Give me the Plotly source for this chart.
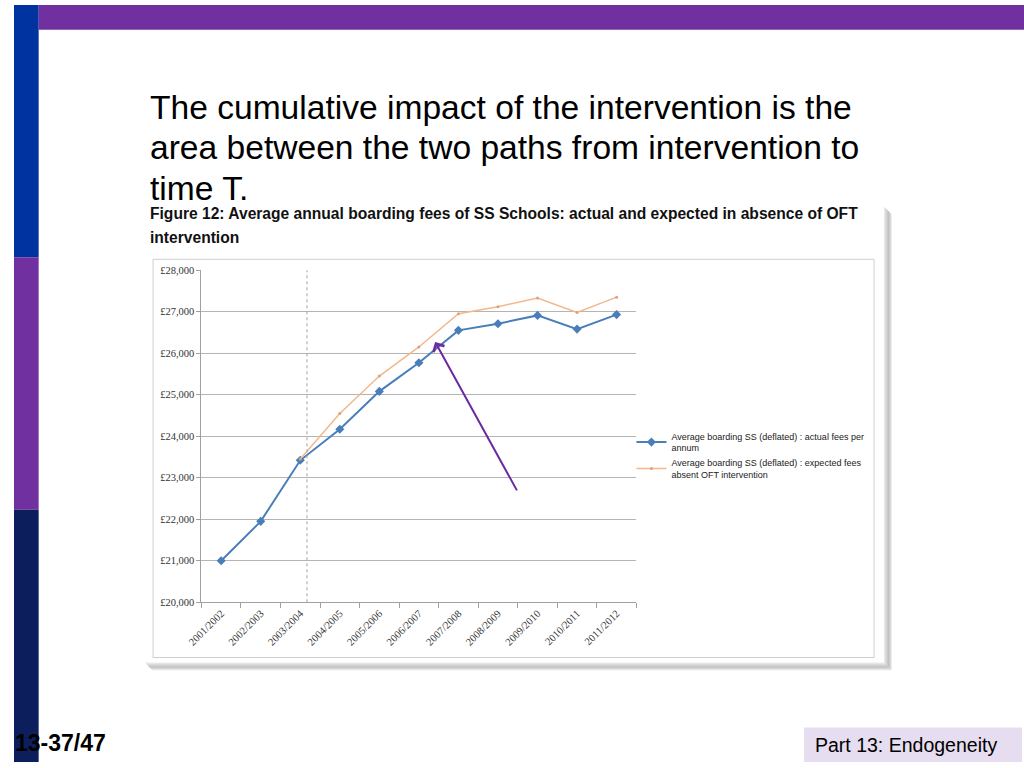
import plotly.graph_objects as go

# ---------------- data ----------------
years = ["2001/2002", "2002/2003", "2003/2004", "2004/2005", "2005/2006", "2006/2007",
         "2007/2008", "2008/2009", "2009/2010", "2010/2011", "2011/2012"]
actual_fees = [21000, 21950, 23420, 24170, 25080, 25770, 26550, 26710, 26910, 26580, 26930]
expected_years = years[2:]
expected_fees = [23450, 24550, 25450, 26150, 26950, 27120, 27330, 26980, 27350]

actual_name = "Average boarding SS (deflated) : actual fees per<br>annum"
expected_name = "Average boarding SS (deflated) : expected fees<br>absent OFT intervention"
title_lines = ["The cumulative impact of the intervention is the",
               "area between the two paths from intervention to",
               "time T."]
caption_lines = ["<b>Figure 12: Average annual boarding fees of SS Schools: actual and expected in absence of OFT</b>",
                 "<b>intervention</b>"]
intervention_x = 2.17          # dashed marker line (category units)
arrow_head = (5.41, 26270)     # arrow tip (category units, £)
arrow_tail = (7.5, 22660)

W, H = 1024, 768


def px(x):
    return x / W


def py(y):
    return 1 - y / H


fig = go.Figure()

fig.add_trace(go.Scatter(
    x=years, y=actual_fees, name=actual_name, mode="lines+markers",
    line=dict(color="#4a7ebb", width=2),
    marker=dict(symbol="diamond", size=7, color="#4a7ebb"),
))
fig.add_trace(go.Scatter(
    x=expected_years, y=expected_fees, name=expected_name, mode="lines+markers",
    line=dict(color="#f2b88c", width=1.5),
    marker=dict(symbol="circle", size=3, color="#e3a07a"),
))

shapes = []
# slide decorations
shapes.append(dict(type="rect", xref="paper", yref="paper", x0=px(25), x1=px(1024), y0=py(0), y1=py(25),
                   fillcolor="#7030a0", line=dict(width=0), layer="below"))
shapes.append(dict(type="rect", xref="paper", yref="paper", x0=px(0), x1=px(25), y0=py(0), y1=py(256),
                   fillcolor="#0033a0", line=dict(width=0), layer="below"))
shapes.append(dict(type="rect", xref="paper", yref="paper", x0=px(0), x1=px(25), y0=py(256), y1=py(512),
                   fillcolor="#7030a0", line=dict(width=0), layer="below"))
shapes.append(dict(type="rect", xref="paper", yref="paper", x0=px(0), x1=px(25), y0=py(512), y1=py(768),
                   fillcolor="#0c1f5c", line=dict(width=0), layer="below"))
shapes.append(dict(type="rect", xref="paper", yref="paper", x0=px(801), x1=px(1022), y0=py(733), y1=py(768),
                   fillcolor="#e6ddf0", line=dict(width=0), layer="below"))

# image drop shadow
for i, op in enumerate([0.10, 0.16, 0.22, 0.28, 0.32, 0.28, 0.20, 0.12]):
    shapes.append(dict(type="rect", xref="paper", yref="paper",
                       x0=px(882 + i), x1=px(883 + i), y0=py(205 + i), y1=py(667 + i),
                       fillcolor=f"rgba(60,60,60,{op})", line=dict(width=0), layer="below"))
    shapes.append(dict(type="rect", xref="paper", yref="paper",
                       x0=px(133 + i), x1=px(883 + i), y0=py(667 + i), y1=py(668 + i),
                       fillcolor=f"rgba(60,60,60,{op})", line=dict(width=0), layer="below"))
# inner chart border
shapes.append(dict(type="rect", xref="paper", yref="paper", x0=px(141), x1=px(872), y0=py(258), y1=py(662),
                   fillcolor="rgba(0,0,0,0)", line=dict(color="#cfcfcf", width=1), layer="below"))
# dashed intervention line
shapes.append(dict(type="line", xref="x", yref="y", x0=intervention_x, x1=intervention_x,
                   y0=20000, y1=28000, line=dict(color="#a0a0a0", width=1, dash="dot")))

annotations = []
for i, line in enumerate(title_lines):
    annotations.append(dict(
        xref="paper", yref="paper", x=px(136), y=py(104 + 41 * i), xanchor="left", yanchor="middle",
        text=line, showarrow=False, align="left",
        font=dict(family="Liberation Sans, Arial, sans-serif", size=33.6, color="#000000")))
for i, line in enumerate(caption_lines):
    annotations.append(dict(
        xref="paper", yref="paper", x=px(136), y=py(212 + 24 * i), xanchor="left", yanchor="middle",
        text=line, showarrow=False, align="left",
        font=dict(family="Liberation Sans Narrow, Arial Narrow, sans-serif", size=15.6, color="#111111")))
annotations.append(dict(
    xref="paper", yref="paper", x=0, y=py(749), xanchor="left", yanchor="middle",
    text="<b>13-37/47</b>", showarrow=False, borderpad=0,
    font=dict(family="Liberation Sans, Arial, sans-serif", size=23, color="#000000")))
annotations.append(dict(
    xref="paper", yref="paper", x=px(810), y=py(751), xanchor="left", yanchor="middle",
    text="Part 13: Endogeneity", showarrow=False,
    font=dict(family="Liberation Sans, Arial, sans-serif", size=19.5, color="#000000")))
annotations.append(dict(
    xref="x", yref="y", x=arrow_head[0], y=arrow_head[1], axref="x", ayref="y",
    ax=arrow_tail[0], ay=arrow_tail[1], showarrow=True, arrowhead=4, arrowsize=1.2,
    arrowwidth=2, arrowcolor="#6a2aa0", text=""))

fig.update_layout(
    width=W, height=H, margin=dict(l=0, r=0, t=0, b=0),
    paper_bgcolor="white", plot_bgcolor="white",
    shapes=shapes, annotations=annotations,
    showlegend=True,
    legend=dict(x=px(626), y=py(425), xanchor="left", yanchor="top",
                font=dict(family="Liberation Sans Narrow, Arial Narrow, sans-serif", size=9, color="#222222"),
                bgcolor="rgba(0,0,0,0)", tracegroupgap=4, itemwidth=30),
    xaxis=dict(domain=[px(190), px(631)], type="category", range=[-0.5, 10.5],
               tickangle=-45, tickson="boundaries", ticks="outside", ticklen=5, tickcolor="#a0a0a0",
               showline=True, linecolor="#a0a0a0", linewidth=1, showgrid=False,
               tickfont=dict(family="Liberation Serif, serif", size=10.5, color="#333333")),
    yaxis=dict(domain=[py(606), py(269)], range=[20000, 28000], dtick=1000,
               tickprefix="£", tickformat=",d", ticks="outside", ticklen=4, tickcolor="#a0a0a0",
               showline=True, linecolor="#a0a0a0", linewidth=1,
               showgrid=True, gridcolor="#b4b4b4", gridwidth=1, zeroline=False,
               tickfont=dict(family="Liberation Serif, serif", size=10.5, color="#333333")),
)

post = ("document.documentElement.style.margin='0';document.body.style.margin='0';"
        "document.body.style.overflow='hidden';"
        "var gd=document.getElementById('{plot_id}');"
        "gd.style.position='absolute';gd.style.left='0px';gd.style.top='0px';")

fig.write_html("out.html", config={"displayModeBar": False}, post_script=post)
